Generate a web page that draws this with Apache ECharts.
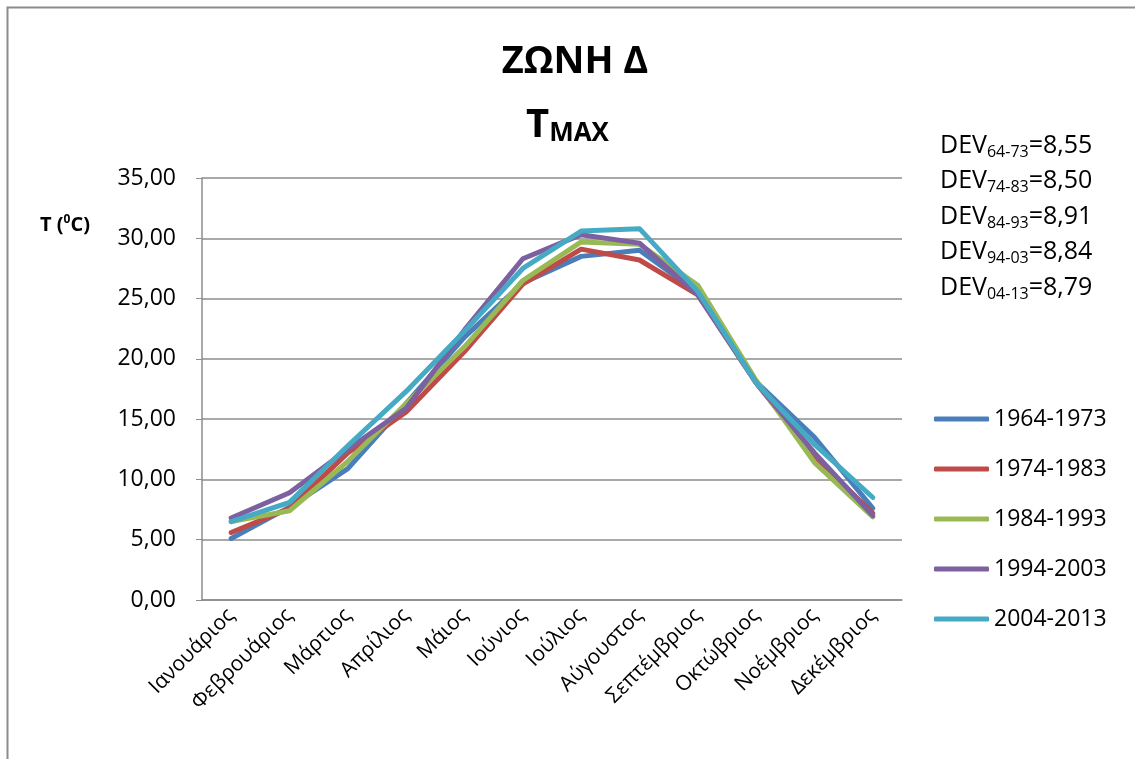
<!DOCTYPE html>
<html><head><meta charset="utf-8">
<script src="https://cdn.jsdelivr.net/npm/echarts@6/dist/echarts.min.js"></script>
<style>html,body{margin:0;padding:0;background:#fff}#c{width:1135px;height:759px}</style>
</head><body><div id="c"></div>
<script>
const months = ['Ιανουάριος','Φεβρουάριος','Μάρτιος','Απρίλιος','Μάιος','Ιούνιος','Ιούλιος','Αύγουστος','Σεπτέμβριος','Οκτώβριος','Νοέμβριος','Δεκέμβριος'];
const yTicks = [0,5,10,15,20,25,30,35];
const s1964 = [5.1, 7.7, 10.9, 16.3, 21.8, 26.3, 28.5, 29.0, 25.5, 18.1, 13.5, 7.6];
const s1974 = [5.6, 7.6, 12.2, 15.6, 20.6, 26.2, 29.1, 28.2, 25.3, 18.0, 11.9, 7.2];
const s1984 = [6.5, 7.4, 11.5, 16.3, 21.0, 26.5, 29.7, 29.5, 26.1, 18.2, 11.4, 6.9];
const s1994 = [6.8, 8.9, 12.5, 15.9, 22.4, 28.3, 30.3, 29.6, 25.3, 18.0, 12.2, 7.0];
const s2004 = [6.5, 8.1, 12.8, 17.3, 22.3, 27.5, 30.6, 30.8, 25.6, 18.0, 12.9, 8.5];
const seriesNames = ['1964-1973','1974-1983','1984-1993','1994-2003','2004-2013'];
const colors = ['#4A7EBB','#BE4B48','#98B954','#7D60A0','#46AAC5'];
const devLabels = ['64-73','74-83','84-93','94-03','04-13'];
const devValues = ['8,55','8,50','8,91','8,84','8,79'];

const data = [s1964, s1974, s1984, s1994, s2004];
const font = '"Open Sans", "Noto Sans", sans-serif';
const chart = echarts.init(document.getElementById('c'));
const graphics = [
  {type:'rect', shape:{x:7.5,y:7.5,width:1200,height:800}, style:{fill:'none', stroke:'#8c8c8c', lineWidth:2}, silent:true},
  {type:'text', x:575, y:62, style:{text:'ΖΩΝΗ Δ', font:'bold 38px ' + font, fill:'#000', align:'center', verticalAlign:'middle'}},
  {type:'text', x:526, y:104, style:{text:'{a|T}{b|MAX}', rich:{a:{fontSize:40,fontWeight:'bold',fontFamily:font,fill:'#000'}, b:{fontSize:26,fontWeight:'bold',fontFamily:font,fill:'#000',padding:[17,0,0,0]}}}},
  {type:'text', x:40, y:214, style:{text:'{a|T (}{s|0}{a|C)}', rich:{a:{fontSize:20,fontWeight:'bold',fontFamily:font,fill:'#000'}, s:{fontSize:12,fontWeight:'bold',fontFamily:font,fill:'#000',padding:[0,0,10,0]}}}}
];
devLabels.forEach((d,i)=>{
  graphics.push({type:'text', x:940, y:131 + i*35.5, style:{text:'{a|DEV}{b|' + d + '}{a|=' + devValues[i] + '}',
    rich:{a:{fontSize:25,fontFamily:font,fill:'#000'}, b:{fontSize:16,fontFamily:font,fill:'#000',padding:[13,0,0,0]}}}});
});
chart.setOption({
  animation:false,
  color: colors,
  graphic: graphics,
  grid:{left:202, top:178, width:700, height:422, containLabel:false},
  legend:{
    orient:'vertical', left:929, top:399, itemGap:20, itemWidth:55, itemHeight:5,
    icon:'roundRect',
    textStyle:{fontSize:23, fontFamily:font, color:'#000', lineHeight:30},
    data: seriesNames
  },
  xAxis:{
    type:'category', data: months, boundaryGap:true,
    axisLine:{lineStyle:{color:'#8c8c8c', width:1.5}},
    axisTick:{show:false},
    axisLabel:{rotate:45, fontSize:21, fontFamily:font, color:'#000', margin:12, interval:0}
  },
  yAxis:{
    type:'value', min:0, max:35, interval:5,
    axisLine:{show:true, lineStyle:{color:'#8c8c8c', width:1.5}},
    axisTick:{show:true, inside:false, length:6, lineStyle:{color:'#8c8c8c'}},
    splitLine:{lineStyle:{color:'#8c8c8c', width:1.5}},
    axisLabel:{fontSize:23, fontFamily:font, color:'#000', margin:26, formatter: v => v.toFixed(2).replace('.',',')}
  },
  series: seriesNames.map((n,i)=>({
    name:n, type:'line', data:data[i], symbol:'none',
    lineStyle:{width:5, color:colors[i], cap:'round', join:'round'},
    itemStyle:{color:colors[i]}
  }))
});
</script></body></html>
